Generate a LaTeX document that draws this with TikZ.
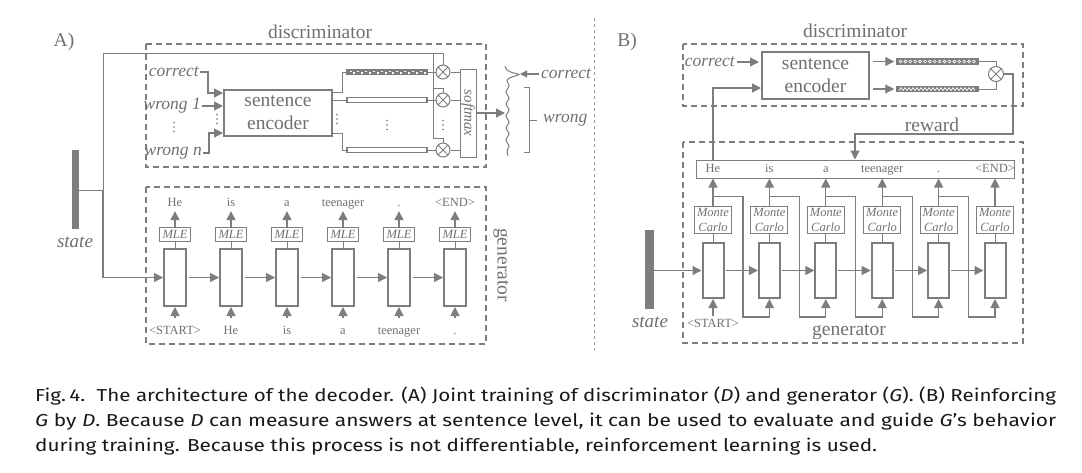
\documentclass[tikz,border=0pt]{standalone}
\usepackage{fontspec}
\usepackage{graphicx}
\setmainfont{Liberation Serif}
\newfontfamily\capfont{Fira Sans}
\usetikzlibrary{arrows.meta,calc}
\definecolor{lg}{RGB}{125,125,125}
\definecolor{tg}{RGB}{112,112,112}
\definecolor{capc}{RGB}{25,25,25}
\begin{document}
\begin{tikzpicture}[x=1pt,y=-1pt,
 every node/.style={inner sep=0pt, text=tg},
 ln/.style={draw=lg, line width=1pt},
 arr/.style={draw=lg, line width=1.2pt, -{Triangle[length=9pt,width=9pt]}},
 sarr/.style={draw=lg, line width=1.2pt, -{Triangle[length=7pt,width=7pt]}},
 dbox/.style={draw=lg, line width=1.6pt, dash pattern=on 6pt off 4pt},
 bigt/.style={font=\fontsize{19.5}{23}\selectfont},
 itl/.style={font=\fontsize{17.5}{20}\selectfont\itshape},
 smt/.style={font=\fontsize{12.5}{15}\selectfont, text height=9pt, text depth=3pt},
 smi/.style={font=\fontsize{12.5}{15}\selectfont\itshape},
 cellbox/.style={draw=lg, line width=2pt, fill=white, minimum width=22pt, minimum height=57pt},
 mlebox/.style={draw=lg, line width=1pt, minimum width=31pt, minimum height=14pt, smi},
 mcbox/.style={draw=lg, line width=1pt, minimum width=37pt, minimum height=27pt, smi, align=center},
 enc/.style={draw=lg, line width=2pt, bigt, align=center},
 bar/.style={draw=lg, line width=1.5pt, minimum width=80pt, minimum height=5pt},
 otim/.style={circle, draw=lg, line width=1pt, fill=white, minimum size=#1, inner sep=0pt,
   path picture={\draw[lg, line width=0.8pt] (path picture bounding box.north west) -- (path picture bounding box.south east)
   (path picture bounding box.north east) -- (path picture bounding box.south west);}},
 otim/.default=14pt,
 capt/.style={anchor=base west, text=capc, font=\capfont\fontsize{17.3}{25}\selectfont},
]
\useasboundingbox[fill=white] (0,0) rectangle (1082,472);

%================ PANEL A =================
\node[bigt] (lblA) at (64,42) {A)};
\node[bigt] (discA) at (320,32) {discriminator};
\draw[dbox] (146,44) rectangle (486,167);
\node[enc, minimum width=108pt, minimum height=46pt] (encA) at (278,113) {sentence\\encoder};

\node[itl, anchor=east] (cA) at (199,72) {correct};
\node[itl, anchor=east] (w1A) at (201,106) {wrong 1};
\node[itl, anchor=east] (wnA) at (202,153) {wrong n};
\draw[arr] ([xshift=1pt]cA.east) -- (208,72) |- ([yshift=20pt]encA.west);
\draw[arr] ([xshift=1pt]w1A.east) -- (w1A.east -| encA.west);
\draw[arr] ([xshift=1pt]wnA.east) -- (209,153) |- ([yshift=-20pt]encA.west);

% embeddings
\node[bar, fill=lg] (b1A) at (387,72) {};
\foreach \k in {0,...,19} \fill[white] ({349.5+3.9*\k}, {70.6+mod(\k,2)*1.6}) rectangle ++(2,1.3);
\node[bar, fill=white] (b2A) at (387,100) {};
\node[bar, fill=white] (b3A) at (387,150) {};
\draw[ln] ([yshift=21pt]encA.east) -| (342,72) -- (b1A.west);
\draw[ln] (encA.east |- b2A.west) -- (b2A.west);
\draw[ln] ([yshift=-20pt]encA.east) -| (342,150) -- (b3A.west);

\node[otim] (o1A) at (443,72) {};
\node[otim] (o2A) at (443,100) {};
\node[otim] (o3A) at (443,150) {};
\draw[ln] (b1A.east) -- (o1A.west);
\draw[ln] (b2A.east) -- (o2A.west);
\draw[ln] (b3A.east) -- (o3A.west);

% vertical ellipsis dots
\foreach \x/\y in {174/127, 217/119, 337/119, 387/125, 443/125}
  \foreach \d in {-4.5,0,4.5} \fill[tg] (\x,\y+\d) circle[radius=0.9];

\node[draw=lg, line width=1pt, minimum width=16pt, minimum height=88pt] (smA) at (468,113) {};
\node[rotate=-90, font=\fontsize{15}{17}\selectfont\itshape] (smtA) at (smA.center) {softmax};
\draw[ln] (o1A.east) -- (o1A.east -| smA.west);
\draw[ln] (o2A.east) -- (o2A.east -| smA.west);
\draw[ln] (o3A.east) -- (o3A.east -| smA.west);
\coordinate (dA) at (505,113);
\draw[arr] (smA.east) -- (dA);

% distribution
\draw[lg, line width=1pt] plot[smooth, tension=0.45] coordinates {(505,66) (507,70) (512,72.5) (519,74.5) (512,77) (507,80) (509,86) (506,92) (509,98) (506,104) (509,110) (506,116) (509,122) (506,128) (509,134) (506,140) (509,146) (507,151) (508,156)};
\node[itl, anchor=west] (cdA) at (541,74) {correct};
\draw[sarr] ([xshift=-2pt]cdA.west) -- (520,74);
\draw[ln] (524,87) -- (529,87) -- (529,152) -- (524,152);
\node[itl, anchor=west] (wdA) at (543,120) {wrong};
\draw[ln] (529,120) -- ([xshift=-6pt]wdA.west);

% state A
\node[fill=lg, minimum width=7pt, minimum height=79pt] (stA) at (75.5,189.5) {};
\node[font=\fontsize{19}{21}\selectfont\itshape] (stlA) at (75,242) {state};
\coordinate (jA) at (103,190);
\draw[ln] (stA.east |- jA) -- (jA);
\draw[ln] (jA) -- (103,53) -| (o1A.north);
\draw[ln] (433,53) -- (433,138) -| (o3A.north);
\draw[ln] (433,88) -| (o2A.north);

% generator A
\draw[dbox] (146,187) rectangle (486,344);
\node[bigt, rotate=-90] (genA) at (501,265) {generator};
\foreach \i/\ow/\iw in {0/He/{\textless START\textgreater}, 1/is/He, 2/a/is, 3/teenager/a, 4/./teenager, 5/{\textless END\textgreater}/.} {
  \pgfmathsetmacro\xx{175+56*\i}
  \node[cellbox] (cA\i) at (\xx,277.5) {};
  \node[mlebox] (mA\i) at (\xx,234) {MLE};
  \node[smt] (oA\i) at (\xx,203) {\ow};
  \node[smt] (iA\i) at (\xx,331) {\iw};
  \draw[ln] (mA\i.south) -- (cA\i.north);
  \draw[arr] (mA\i.north) -- ([yshift=-2pt]oA\i.south);
  \draw[arr] ([yshift=7pt]iA\i.north) -- (cA\i.south);
}
\draw[arr] (jA) -- (103,277.5) -- (cA0.west);
\foreach \i [evaluate=\i as \j using int(\i+1)] in {0,...,4}
  \draw[arr] ([xshift=2pt]cA\i.east) -- (cA\j.west);

% divider
\draw[lg!75, line width=0.8pt, dash pattern=on 3pt off 3pt] (594,18) -- (594,350);

%================ PANEL B =================
\node[bigt] (lblB) at (627,42) {B)};
\node[bigt] (discB) at (855,31) {discriminator};
\draw[dbox] (683,44) rectangle (1023,106);
\node[enc, minimum width=107pt, minimum height=47pt] (encB) at (815.5,75.5) {sentence\\encoder};
\node[itl, anchor=east] (cB) at (735,62) {correct};
\draw[arr] ([xshift=2pt]cB.east) -- ([xshift=-2pt]cB.east -| encB.west);

\node[bar, fill=lg, minimum width=81pt] (b1B) at (937.5,61.5) {};
\foreach \k in {0,...,15} \draw[white, line width=0.6pt] ({900.5+4.9*\k},61.5) circle[radius=1.5];
\node[bar, fill=lg, minimum width=81pt] (b2B) at (937.5,89) {};
\draw[white, line width=0.7pt] (899,90.6) \foreach \k in {0,...,18} { -- ++(2,-3) -- ++(2,3)};
\draw[arr] ($(encB.east |- b1B.west)+(3,0)$) -- ([xshift=-2pt]b1B.west);
\draw[arr] ($(encB.east |- b2B.west)+(3,0)$) -- ([xshift=-2pt]b2B.west);

\node[otim=15pt] (oB) at (996,74) {};
\draw[ln] (b1B.east) -| (oB.north);
\draw[ln] (b2B.east) -| (oB.south);

% generator B
\draw[dbox] (683,142) rectangle (1023,343);
\node[bigt] (genB) at (849,332) {generator};
\node[draw=lg, line width=1pt, minimum width=318pt, minimum height=18pt] (sentB) at (855,169) {};
\coordinate (rw) at (1013,134);
\draw[arr] (oB.east) -| (rw) -| (sentB.north);
\node[bigt] (rwl) at (932,125) {reward};

\foreach \i/\ow in {0/He, 1/is, 2/a, 3/teenager, 4/., 5/{\textless END\textgreater}} {
  \pgfmathsetmacro\xx{713+56.4*\i}
  \node[smt] (wB\i) at (\xx,169) {\ow};
  \node[mcbox] (mB\i) at (\xx,219.5) {Monte\\Carlo};
  \node[cellbox, minimum width=21pt, minimum height=55pt] (cB\i) at (\xx,270.5) {};
  \draw[arr] (mB\i.north) -- (mB\i.north |- sentB.south);
  \draw[ln] (mB\i.south) -- (cB\i.north);
}
\foreach \i [evaluate=\i as \j using int(\i+1)] in {0,...,4} {
  \draw[arr] ([xshift=1pt]cB\i.east) -- (cB\j.west);
  \draw[arr] ([yshift=9pt]mB\i.north) -| ($(cB\i.south)+(30,18)$) -| (cB\j.south);
}
\draw[arr] (sentB.north -| mB0.north) |- ([yshift=-12.5pt]encB.west);

\node[fill=lg, minimum width=9pt, minimum height=79pt] (stB) at (649.5,269.5) {};
\node[font=\fontsize{19}{21}\selectfont\itshape] (stlB) at (650,322) {state};
\draw[arr] (stB.east |- cB0.west) -- (cB0.west);
\node[smt] (sB) at (713,324) {\textless START\textgreater};
\draw[arr] ([yshift=2pt]sB.north) -- (cB0.south);

%================ CAPTION =================
\node[capt] (cap1) at (35,401) {\resizebox{1021pt}{\height}{Fig.\,4.\hspace{0.55em}The architecture of the decoder. (A) Joint training of discriminator (\textit{D}) and generator (\textit{G}). (B) Reinforcing}};
\node[capt] (cap2) at (35,426) {\resizebox{1021pt}{\height}{\textit{G} by \textit{D}. Because \textit{D} can measure answers at sentence level, it can be used to evaluate and guide \textit{G}’s behavior}};
\node[capt] (cap3) at (35,451) {\resizebox{842pt}{\height}{during training. Because this process is not differentiable, reinforcement learning is used.}};
\end{tikzpicture}
\end{document}
